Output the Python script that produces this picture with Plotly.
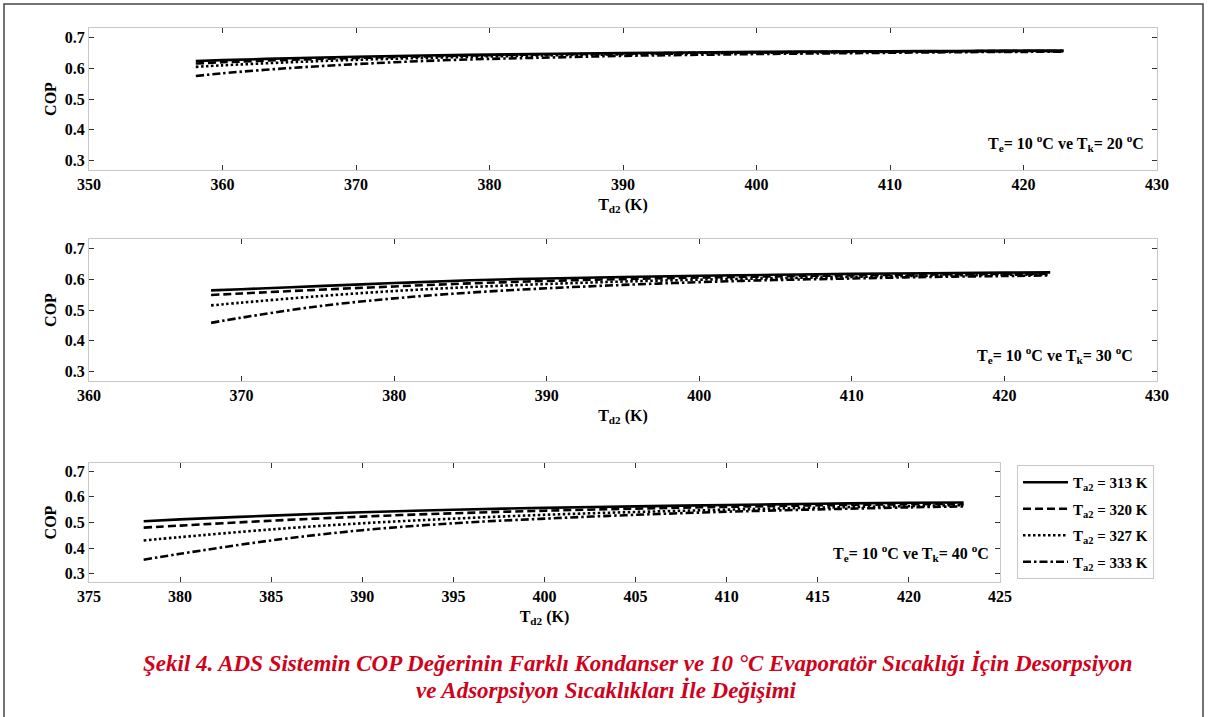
import plotly.graph_objects as go

# ---------------- data ----------------
series_names = ["T<sub>a2</sub> = 313 K", "T<sub>a2</sub> = 320 K",
                "T<sub>a2</sub> = 327 K", "T<sub>a2</sub> = 333 K"]

# Panel 1: Te = 10 C, Tk = 20 C
x_tk20 = [358, 360, 365, 370, 375, 380, 385, 390, 395, 400, 405, 410, 415, 420, 423]
cop_tk20_313 = [0.624, 0.627, 0.633, 0.638, 0.642, 0.645, 0.648, 0.650, 0.652, 0.654, 0.655, 0.656, 0.657, 0.658, 0.658]
cop_tk20_320 = [0.616, 0.620, 0.628, 0.634, 0.639, 0.643, 0.646, 0.648, 0.651, 0.652, 0.654, 0.655, 0.656, 0.657, 0.657]
cop_tk20_327 = [0.605, 0.610, 0.620, 0.628, 0.634, 0.639, 0.643, 0.646, 0.649, 0.651, 0.652, 0.654, 0.655, 0.656, 0.656]
cop_tk20_333 = [0.575, 0.584, 0.601, 0.614, 0.624, 0.631, 0.636, 0.641, 0.644, 0.647, 0.649, 0.651, 0.653, 0.654, 0.655]

# Panel 2: Te = 10 C, Tk = 30 C
x_tk30 = [368, 370, 375, 380, 385, 390, 395, 400, 405, 410, 415, 420, 423]
cop_tk30_313 = [0.564, 0.568, 0.578, 0.588, 0.597, 0.603, 0.608, 0.612, 0.615, 0.618, 0.620, 0.622, 0.623]
cop_tk30_320 = [0.549, 0.554, 0.566, 0.577, 0.587, 0.595, 0.601, 0.606, 0.610, 0.613, 0.616, 0.618, 0.619]
cop_tk30_327 = [0.515, 0.524, 0.545, 0.562, 0.575, 0.585, 0.593, 0.599, 0.604, 0.608, 0.612, 0.615, 0.616]
cop_tk30_333 = [0.458, 0.475, 0.512, 0.538, 0.557, 0.571, 0.582, 0.591, 0.598, 0.603, 0.608, 0.611, 0.613]

# Panel 3: Te = 10 C, Tk = 40 C
x_tk40 = [378, 380, 385, 390, 395, 400, 405, 410, 415, 420, 423]
cop_tk40_313 = [0.505, 0.512, 0.527, 0.540, 0.550, 0.557, 0.563, 0.568, 0.573, 0.577, 0.578]
cop_tk40_320 = [0.480, 0.488, 0.507, 0.523, 0.536, 0.546, 0.554, 0.561, 0.567, 0.571, 0.573]
cop_tk40_327 = [0.430, 0.443, 0.473, 0.497, 0.515, 0.530, 0.541, 0.550, 0.558, 0.564, 0.568]
cop_tk40_333 = [0.355, 0.378, 0.430, 0.470, 0.497, 0.515, 0.530, 0.542, 0.551, 0.559, 0.563]

y_ticks = [0.3, 0.4, 0.5, 0.6, 0.7]
y_ticklabels = ["0.3", "0.4", "0.5", "0.6", "0.7"]
x_ticks_1 = [350, 360, 370, 380, 390, 400, 410, 420, 430]
x_ticks_2 = [360, 370, 380, 390, 400, 410, 420, 430]
x_ticks_3 = [375, 380, 385, 390, 395, 400, 405, 410, 415, 420, 425]

panel_notes = ["T<sub>e</sub>= 10 <sup>o</sup>C ve T<sub>k</sub>= 20 <sup>o</sup>C",
               "T<sub>e</sub>= 10 <sup>o</sup>C ve T<sub>k</sub>= 30 <sup>o</sup>C",
               "T<sub>e</sub>= 10 <sup>o</sup>C ve T<sub>k</sub>= 40 <sup>o</sup>C"]
caption_line1 = "Şekil 4. ADS Sistemin COP Değerinin Farklı Kondanser ve 10 °C Evaporatör Sıcaklığı İçin Desorpsiyon"
caption_line2 = "ve Adsorpsiyon Sıcaklıkları İle Değişimi"

# ---------------- figure ----------------
W, H = 1208, 717
dashes = ["solid", "8px,4px", "2.5px,2.5px", "8px,3px,2.5px,3px"]
FONT = "Liberation Serif"

fig = go.Figure()
panels = [
    (x_tk20, [cop_tk20_313, cop_tk20_320, cop_tk20_327, cop_tk20_333], "x", "y"),
    (x_tk30, [cop_tk30_313, cop_tk30_320, cop_tk30_327, cop_tk30_333], "x2", "y2"),
    (x_tk40, [cop_tk40_313, cop_tk40_320, cop_tk40_327, cop_tk40_333], "x3", "y3"),
]
for pi, (xs, ys_list, xa, ya) in enumerate(panels):
    for si, ys in enumerate(ys_list):
        fig.add_trace(go.Scatter(
            x=xs, y=ys, mode="lines", xaxis=xa, yaxis=ya,
            name=series_names[si], showlegend=(pi == 2), legendgroup="g%d" % si,
            line=dict(color="black", width=2.6, dash=dashes[si], shape="spline"),
        ))

def px_x(p):
    return p / W

def px_y(p):
    return 1 - p / H

# plot-area pixel boxes: (left, right, top, bottom)
boxes = [(89, 1157, 28, 170), (89, 1157, 239, 381), (89, 1000, 463, 582)]
xranges = [[350, 430], [360, 430], [375, 425]]
xticks = [x_ticks_1, x_ticks_2, x_ticks_3]

tickfont = dict(family=FONT, size=16, color="black", weight="bold")
axis_common = dict(showgrid=False, zeroline=False, showline=True, linecolor="#c8c8c8",
                   linewidth=1, mirror="ticks", ticks="inside", ticklen=5,
                   tickcolor="#333333", tickwidth=1, tickfont=tickfont, automargin=False)

layout_axes = {}
for i, (l, r, t, b) in enumerate(boxes):
    sx = "" if i == 0 else str(i + 1)
    layout_axes["xaxis" + sx] = dict(
        axis_common, domain=[px_x(l), px_x(r)], range=xranges[i],
        tickvals=xticks[i], ticktext=[str(v) for v in xticks[i]],
        anchor="y" + sx,
        title=dict(text="T<sub>d2</sub> (K)", font=dict(family=FONT, size=16, color="black", weight="bold"),
                   standoff=6),
    )
    layout_axes["yaxis" + sx] = dict(
        axis_common, domain=[px_y(b), px_y(t)], range=[0.268, 0.732],
        tickvals=y_ticks, ticktext=y_ticklabels, anchor="x" + sx,
        title=dict(text="COP", font=dict(family=FONT, size=16, color="black", weight="bold"),
                   standoff=4),
    )

annotations = []
note_pos = [(0.99, 0.19), (0.979, 0.183), (0.99, 0.244)]
for i, note in enumerate(panel_notes):
    sx = "" if i == 0 else str(i + 1)
    annotations.append(dict(
        text=note, xref="x" + sx + " domain", yref="y" + sx + " domain",
        x=note_pos[i][0], y=note_pos[i][1], xanchor="right", yanchor="middle",
        showarrow=False, font=dict(family=FONT, size=16, color="black", weight="bold"),
    ))
cap_font = dict(family=FONT, size=23, color="#d0021b", weight="bold", style="italic")
annotations.append(dict(
    text=caption_line1, xref="paper", yref="paper", x=px_x(638), y=px_y(663),
    xanchor="center", yanchor="middle", showarrow=False, font=cap_font,
))
annotations.append(dict(
    text=caption_line2, xref="paper", yref="paper", x=px_x(606), y=px_y(690),
    xanchor="center", yanchor="middle", showarrow=False, font=cap_font,
))

fig.update_layout(
    width=W, height=H, margin=dict(l=0, r=0, t=0, b=0, autoexpand=False),
    paper_bgcolor="white", plot_bgcolor="white",
    annotations=annotations,
    legend=dict(x=px_x(1017), y=px_y(465), xanchor="left", yanchor="top",
                bordercolor="#c8c8c8", borderwidth=1, bgcolor="white",
                font=dict(family=FONT, size=15, color="black", weight="bold"),
                itemwidth=45, tracegroupgap=4),
    shapes=[dict(type="rect", xref="paper", yref="paper",
                 x0=px_x(4), x1=px_x(1203), y0=-0.02, y1=px_y(4),
                 line=dict(color="#444444", width=1.5))],
    **layout_axes,
)

fig.write_html("out.html", config={"displayModeBar": False},
               post_script="document.body.style.margin='0';document.body.style.overflow='hidden';")
